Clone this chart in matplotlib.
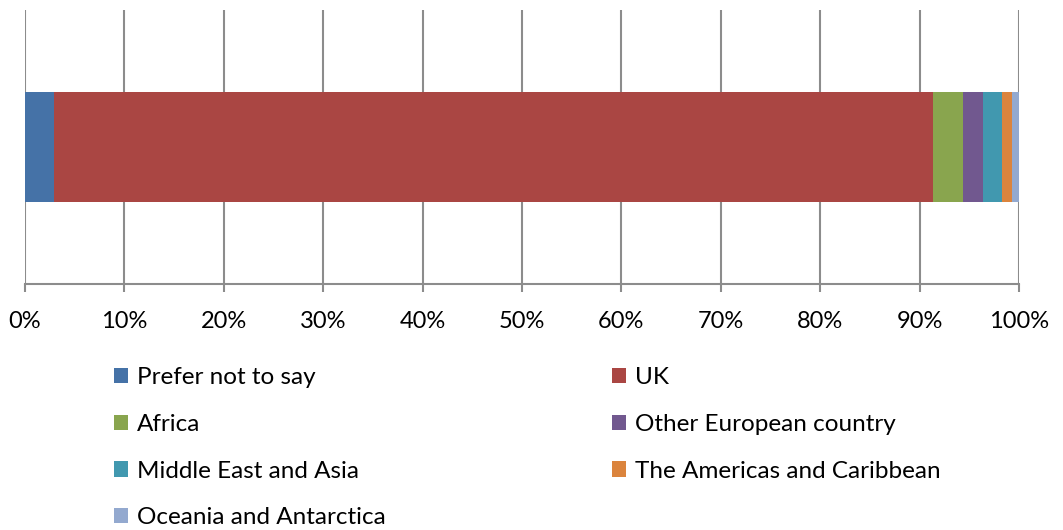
import matplotlib.pyplot as plt
from matplotlib.patches import Patch

plt.rcParams['font.family'] = ['Lato', 'DejaVu Sans']

categories = ["Prefer not to say", "UK", "Africa", "Other European country",
              "Middle East and Asia", "The Americas and Caribbean", "Oceania and Antarctica"]
shares = [2.9, 88.45, 3.0, 2.0, 1.9, 1.05, 0.7]
colors = ["#4572A7", "#AA4643", "#89A54E", "#71588F", "#4198AF", "#DB843D", "#93A9CF"]
ticks = list(range(0, 101, 10))
tick_labels = [f"{t}%" for t in ticks]

fig = plt.figure(figsize=(10.63, 5.30), dpi=100)
W, H = 1063, 530
ax = fig.add_axes([25 / W, (H - 284) / H, (1019 - 25) / W, (284 - 10) / H])

left = 0
for name, val, col in zip(categories, shares, colors):
    ax.barh(0, val, left=left, height=0.81, color=col, zorder=3, label=name)
    left += val

ax.set_xlim(0, 100)
ax.set_ylim(-1, 1)
ax.set_xticks(ticks)
ax.set_xticklabels(tick_labels, fontsize=17)
ax.set_yticks([])
ax.grid(axis='x', color='#8c8c8c', linewidth=1.5, zorder=0)
ax.tick_params(axis='x', length=6, width=1.5, color='#8c8c8c', pad=13.5)
for s in ['top', 'right', 'left']:
    ax.spines[s].set_visible(False)
ax.spines['bottom'].set_color('#8c8c8c')
ax.spines['bottom'].set_linewidth(1.5)

handles = [Patch(facecolor=c) for c in colors]
left_idx = [0, 2, 4, 6]
right_idx = [1, 3, 5]
common = dict(frameon=False, fontsize=17.5, handlelength=0.58, handleheight=0.58,
              handletextpad=0.38, labelspacing=1.06, borderpad=0, borderaxespad=0)
leg1 = fig.legend([handles[i] for i in left_idx], [categories[i] for i in left_idx],
                  loc='upper left', bbox_to_anchor=(114 / W, (H - 367) / H), **common)
leg2 = fig.legend([handles[i] for i in right_idx], [categories[i] for i in right_idx],
                  loc='upper left', bbox_to_anchor=(612 / W, (H - 367) / H), **common)

fig.savefig("out.png", dpi=100)
